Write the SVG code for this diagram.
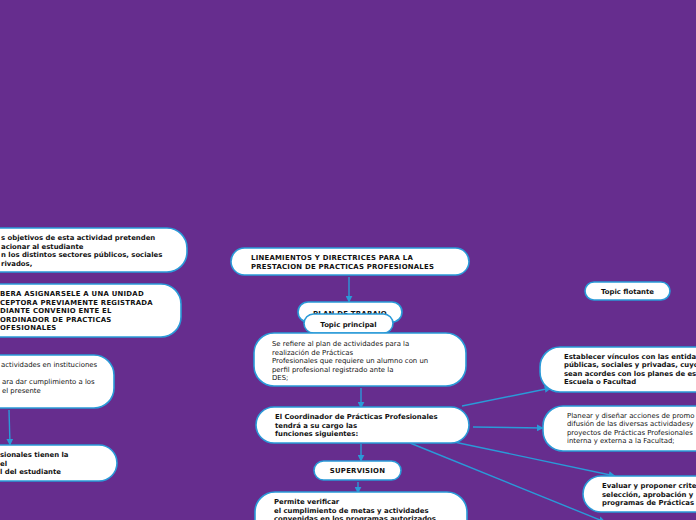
<svg xmlns="http://www.w3.org/2000/svg" width="696" height="520" viewBox="0 0 696 520">
<defs>
<style>
.n{fill:#fff;stroke:#2a9ad8;stroke-width:1.6}
.t{font-family:"DejaVu Sans",Verdana,sans-serif;font-size:6.9px;fill:#111}
.b{font-weight:bold}
.c{text-anchor:middle}
.u{letter-spacing:0.25px}
.e{stroke:#2a9ad8;stroke-width:1.4;fill:none;marker-end:url(#a)}
</style>
<marker id="a" viewBox="0 0 10 10" refX="9" refY="5" markerWidth="7" markerHeight="7" orient="auto" markerUnits="userSpaceOnUse">
<path d="M0,0 L10,5 L0,10 z" fill="#2a9ad8"/>
</marker>
</defs>
<rect width="696" height="520" fill="#662d8e"/>
<g id="connectors">
<path class="e" d="M9,410 L10,445"/>
<path class="e" d="M349,277 L349,302"/>
<path class="e" d="M361,388 L361,408"/>
<path class="e" d="M361,444 L361,461"/>
<path class="e" d="M358,482 L358,493"/>
<path class="e" d="M462,406 L551,388"/>
<path class="e" d="M473,427 L543,428"/>
<path class="e" d="M454,442 L615,476"/>
<path class="e" d="M410,443 L605,522"/>
</g>
<g id="n1">
<rect class="n" x="-30" y="228" width="217" height="44" rx="20"/>
<text class="t b" x="1" y="240">s objetivos de esta actividad pretenden</text>
<text class="t b" x="1" y="248.5">acionar al estudiante</text>
<text class="t b" x="1" y="257">n los distintos sectores públicos, sociales</text>
<text class="t b" x="1" y="265.5">rivados,</text>
</g>
<g id="n2">
<rect class="n" x="-30" y="284" width="211" height="53" rx="20"/>
<text class="t b u" x="0" y="296">BERA ASIGNARSELE A UNA UNIDAD</text>
<text class="t b u" x="0" y="304.5">CEPTORA PREVIAMENTE REGISTRADA</text>
<text class="t b u" x="0" y="313">DIANTE CONVENIO ENTE EL</text>
<text class="t b u" x="0" y="321.5">ORDINADOR DE PRACTICAS</text>
<text class="t b u" x="0" y="330">OFESIONALES</text>
</g>
<g id="n3">
<rect class="n" x="-30" y="355" width="144" height="53" rx="20"/>
<text class="t" x="1" y="367">actividades en instituciones</text>
<text class="t" x="2" y="384">ara dar cumplimiento a los</text>
<text class="t" x="2" y="392.5">el presente</text>
</g>
<g id="n4">
<rect class="n" x="-30" y="445" width="147" height="36" rx="18"/>
<text class="t b" x="0" y="457">sionales tienen la</text>
<text class="t b" x="0" y="465.5">el</text>
<text class="t b" x="0" y="474">l del estudiante</text>
</g>
<g id="title">
<rect class="n" x="231" y="248" width="238" height="27" rx="13.5"/>
<text class="t b u" x="251" y="260">LINEAMIENTOS Y DIRECTRICES PARA LA</text>
<text class="t b u" x="251" y="269">PRESTACION DE PRACTICAS PROFESIONALES</text>
</g>
<g id="plan">
<rect class="n" x="298" y="302" width="104" height="20" rx="10"/>
<text class="t b c u" x="350" y="316">PLAN DE TRABAJO</text>
</g>
<g id="topic-principal">
<rect class="n" x="304" y="314" width="89" height="19" rx="9.5"/>
<text class="t b c" x="348.5" y="327">Topic principal</text>
</g>
<g id="desc">
<rect class="n" x="254" y="333" width="212" height="53" rx="20"/>
<text class="t" x="272" y="346">Se refiere al plan de actividades para la</text>
<text class="t" x="272" y="354.5">realización de Prácticas</text>
<text class="t" x="272" y="363">Profesionales que requiere un alumno con un</text>
<text class="t" x="272" y="371.5">perfil profesional registrado ante la</text>
<text class="t" x="272" y="380">DES;</text>
</g>
<g id="coord">
<rect class="n" x="256" y="407" width="213" height="36" rx="18"/>
<text class="t b" x="275" y="419">El Coordinador de Prácticas Profesionales</text>
<text class="t b" x="275" y="427.5">tendrá a su cargo las</text>
<text class="t b" x="275" y="436">funciones siguientes:</text>
</g>
<g id="supervision">
<rect class="n" x="314" y="461" width="87" height="19" rx="9.5"/>
<text class="t b c u" x="357.5" y="473">SUPERVISION</text>
</g>
<g id="permite">
<rect class="n" x="255" y="492" width="212" height="50" rx="20"/>
<text class="t b" x="274" y="504">Permite verificar</text>
<text class="t b" x="274" y="512.5">el cumplimiento de metas y actividades</text>
<text class="t b" x="274" y="521">convenidas en los programas autorizados</text>
</g>
<g id="topic-flotante">
<rect class="n" x="585" y="282" width="85" height="18" rx="9"/>
<text class="t b c" x="627.5" y="294">Topic flotante</text>
</g>
<g id="establecer">
<rect class="n" x="540" y="347" width="190" height="45" rx="20"/>
<text class="t b" x="564" y="358.5">Establecer vínculos con las entida</text>
<text class="t b" x="564" y="367">públicas, sociales y privadas, cuyo</text>
<text class="t b" x="564" y="375.5">sean acordes con los planes de es</text>
<text class="t b" x="564" y="384">Escuela o Facultad</text>
</g>
<g id="planear">
<rect class="n" x="543" y="406" width="190" height="45" rx="20"/>
<text class="t" x="567" y="417.5">Planear y diseñar acciones de promo</text>
<text class="t" x="567" y="426">difusión de las diversas actividadesy</text>
<text class="t" x="567" y="434.5">proyectos de Prácticas Profesionales</text>
<text class="t" x="567" y="443">interna y externa a la Facultad;</text>
</g>
<g id="evaluar">
<rect class="n" x="583" y="476" width="150" height="36" rx="18"/>
<text class="t b" x="602" y="488">Evaluar y proponer crite</text>
<text class="t b" x="602" y="496.5">selección, aprobación y</text>
<text class="t b" x="602" y="505">programas de Prácticas</text>
</g>
</svg>
